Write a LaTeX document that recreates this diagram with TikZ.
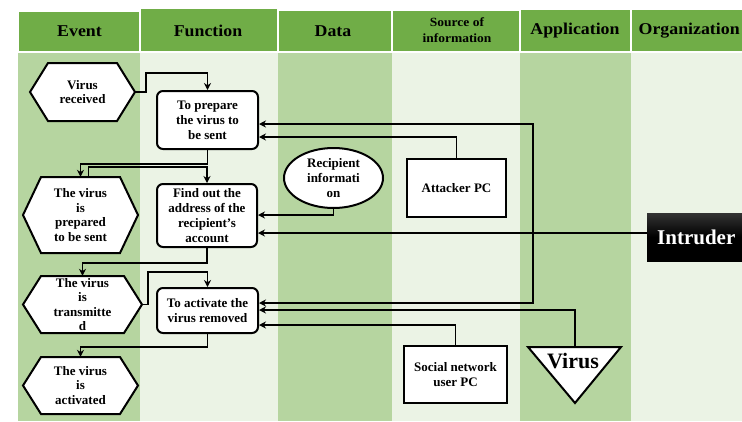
\documentclass[tikz,border=0pt]{standalone}
\usepackage{fontspec}
\setmainfont{Liberation Serif}
\newfontfamily\hdrfont[FakeStretch=1.08]{Liberation Serif}
\usetikzlibrary{arrows.meta,shapes.geometric,calc}
\definecolor{hdrgreen}{HTML}{70AD47}
\definecolor{lanedark}{HTML}{B6D5A0}
\definecolor{lanelight}{HTML}{EBF3E5}
\newcommand\myhexagon[6]{%
  \filldraw[hexline] (#2-#4/2,#3) -- (#2-#4/2+18,#3-#5/2) -- (#2+#4/2-18,#3-#5/2)
     -- (#2+#4/2,#3) -- (#2+#4/2-18,#3+#5/2) -- (#2-#4/2+18,#3+#5/2) -- cycle;
  \node[hextxt, minimum width=#4pt, minimum height=#5pt] (#1) at (#2,#3) {#6};}
\begin{document}
\begin{tikzpicture}[x=1pt,y=-1pt,
  hdr/.style={font=\hdrfont\bfseries\fontsize{16.5}{18}\selectfont, inner sep=0pt},
  hdrsmall/.style={font=\hdrfont\bfseries\fontsize{12.5}{16}\selectfont, align=center, inner sep=0pt},
  txt/.style={font=\bfseries\fontsize{13}{15}\selectfont, align=center},
  hextxt/.style={font=\bfseries\fontsize{13}{14.5}\selectfont, align=center, inner sep=0pt},
  hexline/.style={draw=black, fill=white, line width=2pt, line join=miter},
  fnbox/.style={txt, draw, line width=2pt, rounded corners=6pt, fill=white, inner sep=0pt},
  srcbox/.style={txt, draw, line width=2pt, fill=white, inner sep=0pt},
  databox/.style={txt, ellipse, draw, line width=2pt, fill=white, inner sep=0pt},
  arr/.style={line width=1.6pt, -{Stealth[length=7pt,width=7pt]}},
  darr/.style={line width=1.6pt, {Stealth[length=7pt,width=7pt]}-{Stealth[length=7pt,width=7pt]}},
  plain/.style={line width=1.6pt}
]
\useasboundingbox (0,0) rectangle (742,421);
\fill[white] (0,0) rectangle (742,421);
% lanes
\fill[lanedark]  (18,53)  rectangle (140,421);
\fill[lanelight] (140,53) rectangle (278,421);
\fill[lanedark]  (278,53) rectangle (392,421);
\fill[lanelight] (392,53) rectangle (520,421);
\fill[lanedark]  (520,53) rectangle (631,421);
\fill[lanelight] (631,53) rectangle (742,421);
% headers
\fill[hdrgreen] (19,12)  rectangle (139,51);
\fill[hdrgreen] (141,9)  rectangle (277,51);
\fill[hdrgreen] (279,11) rectangle (391,51);
\fill[hdrgreen] (393,11) rectangle (519,51);
\fill[hdrgreen] (521,10) rectangle (630,51);
\fill[hdrgreen] (632,10) rectangle (742,51);
\node[hdr] (hev) at (79.5,31) {Event};
\node[hdr] (hfn) at (208,31) {Function};
\node[hdr] (hda) at (333,31) {Data};
\node[hdrsmall] (hsrc) at (457,30) {Source of\\information};
\node[hdr] (hap) at (575,31) {Application};
\node[hdr, anchor=west] (hor) at (638.5,31) {Organization};

% events
\myhexagon{recv}{82.5}{92}{105}{58}{Virus\\received}
\myhexagon{prepd}{80.5}{215}{115}{76}{The virus\\is\\prepared\\to be sent}
\myhexagon{trans}{82.5}{304.5}{119}{57}{The virus\\is\\transmitte\\d}
\myhexagon{actd}{80.5}{385.5}{115}{57}{The virus\\is\\activated}

% functions
\node[fnbox, minimum width=101pt, minimum height=58pt] (prep) at (207.5,120) {To prepare\\the virus to\\be sent};
\node[fnbox, minimum width=100pt, minimum height=63pt] (find) at (207,215.5) {Find out the\\address of the\\recipient's\\account};
\node[fnbox, minimum width=101pt, minimum height=45pt] (act) at (207.5,310.5) {To activate the\\virus removed};

% data
\node[databox, minimum width=99pt, minimum height=60pt] (rinfo) at (333.5,178) {Recipient\\informati\\on};

% sources
\node[srcbox, minimum width=99pt, minimum height=58pt] (att) at (456.5,188) {Attacker PC};
\node[srcbox, minimum width=103pt, minimum height=57pt] (snu) at (455.5,374.5) {Social network\\user PC};

% application
\filldraw[hexline] (528,347) -- (621,347) -- (575,403) -- cycle;
\coordinate (vtop) at (575,347);
\node[font=\bfseries\fontsize{22}{24}\selectfont, inner sep=0pt] (vir) at (573,361) {Virus};

% organization
\node[anchor=west, minimum width=120pt, minimum height=48pt, inner sep=0pt,
      top color=black!80, bottom color=black, middle color=black, text=white] (intr) at (647,237) {};
\node[anchor=west, text=white, font=\bfseries\fontsize{21}{24}\selectfont, inner sep=0pt] (intrtxt) at (657,237) {Intruder};

% connectors
\draw[arr] (recv.east) -- ++(11,0) -- ++(0,-19) -| (prep.north);
\draw[arr] (prep.south) -- ++(0,14) -| (prepd.north);
\draw[arr] ([xshift=8pt]prepd.north) -- ++(0,-10) -| (find.north);
\draw[arr] (find.south) -- ++(0,15) -| (trans.north);
\draw[arr] (trans.east) -- ++(6,0) -- ++(0,-32.5) -| (act.north);
\draw[arr] (act.south) -- ++(0,13) -| (actd.north);

\draw[darr] (prep.east |- 0,124) -- (533,124) -- (533,303) -- (act.east |- 0,303);
\draw[arr] (att.north) -- (att.north |- 0,137) -- (prep.east |- 0,137);
\draw[arr] (rinfo.south) -- (rinfo.south |- 0,215) -- (find.east |- 0,215);
\draw[arr] (intr.west |- 0,233) -- (find.east |- 0,233);
\draw[arr] (vtop) -- (vtop |- 0,310) -- (act.east |- 0,310);
\draw[arr] (snu.north) -- (snu.north |- 0,325) -- (act.east |- 0,325);
\end{tikzpicture}
\end{document}
